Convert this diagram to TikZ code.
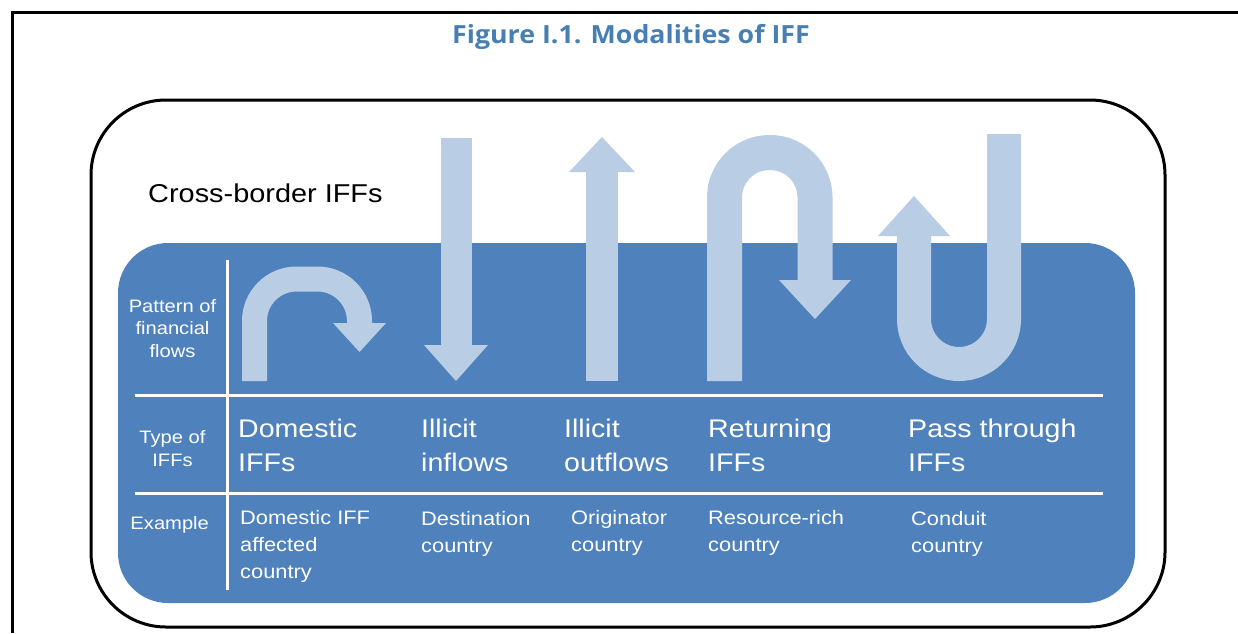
\documentclass[tikz,border=0pt]{standalone}
\usepackage{fontspec}
\setmainfont[FakeStretch=1.12]{Liberation Sans}
\newfontfamily\titlefont[FakeStretch=1.07]{Open Sans}
\usepackage{tikz}

\definecolor{panelblue}{RGB}{79,129,189}
\definecolor{flowblue}{RGB}{185,205,229}
\definecolor{titleblue}{RGB}{72,127,179}

\begin{document}
\begin{tikzpicture}[x=1pt, y=-1pt,
        flow/.style={draw=flowblue, line width=#1},
        head/.style={fill=flowblue},
        rowlabel/.style={anchor=north, inner sep=0pt, align=center, text=white,
            font=\fontsize{18}{22.5}\selectfont},
        flowtype/.style={anchor=north west, inner sep=0pt, align=left, text=white,
            font=\fontsize{25.5}{34}\selectfont},
        example/.style={anchor=north west, inner sep=0pt, align=left, text=white,
            font=\fontsize{19.5}{27}\selectfont},
        rule/.style={draw=white, line width=3pt}]
        \useasboundingbox (0,0) rectangle (1238,633);
        % frame of the page
        \draw[line width=3pt] (12,633) -- (12,12.5) -- (1238,12.5);
        \node[anchor=base, inner sep=0pt, text=titleblue,
            font=\titlefont\bfseries\fontsize{25}{30}\selectfont] (Title) at (631,43) {
            Figure I.1. Modalities of IFF
        };
        % the two panels
        \draw[line width=3pt, rounded corners=75pt] (91,100) rectangle (1165,627);
        \fill[panelblue, rounded corners=50pt] (118,243) rectangle (1135,603);
        \draw[rule] (227,260) -- (227,590);
        \draw[rule] (135,395) -- (1103,395);
        \draw[rule] (135,493) -- (1103,493);
        \node[anchor=north west, inner sep=0pt, font=\fontsize{25.8}{30}\selectfont] (CrossBorder) at (148,183.5) {
            Cross-border IFFs
        };
        % patterns of the flows
        \draw[flow=25pt, rounded corners=42pt] (254.5,381) -- (254.5,279) -- (359.5,279) -- (359.5,323.5);
        \fill[head] (333,323) -- (386,323) -- (359.5,352) -- cycle;
        \draw[flow=31pt] (456,138) -- (456,345.5);
        \fill[head] (424,345) -- (488,345) -- (456,381) -- cycle;
        \draw[flow=32pt] (602,381) -- (602,171.5);
        \fill[head] (569,172) -- (635,172) -- (602,137) -- cycle;
        \draw[flow=35pt, rounded corners=45pt] (724.5,381) -- (724.5,152.5) -- (815,152.5) -- (815,280.5);
        \fill[head] (779,280) -- (851,280) -- (815,319) -- cycle;
        \draw[flow=34pt, rounded corners=45pt] (1004,134) -- (1004,364) -- (914,364) -- (914,235.5);
        \fill[head] (878,236) -- (950,236) -- (914,196) -- cycle;
        % row labels
        \node[rowlabel] (Pattern) at (172.5,299) {
            Pattern of\\financial\\flows
        };
        \node[rowlabel] (Type) at (172.5,430.5) {
            Type of\\IFFs
        };
        \node[rowlabel] (Example) at (172.5,516) {
            Example
        };
        % types of IFFs
        \node[flowtype] (Domestic) at (238,419) {
            Domestic\\IFFs
        };
        \node[flowtype] (Inflows) at (421,419) {
            Illicit\\inflows
        };
        \node[flowtype] (Outflows) at (564,419) {
            Illicit\\outflows
        };
        \node[flowtype] (Returning) at (708,419) {
            Returning\\IFFs
        };
        \node[flowtype] (PassThrough) at (908,419) {
            Pass through\\IFFs
        };
        % examples
        \node[example] (DomesticCountry) at (240,510) {
            Domestic IFF\\affected\\country
        };
        \node[example] (Destination) at (421,511) {
            Destination\\country
        };
        \node[example] (Originator) at (571,510) {
            Originator\\country
        };
        \node[example] (ResourceRich) at (708,510) {
            Resource-rich\\country
        };
        \node[example] (Conduit) at (911,511) {
            Conduit\\country
        };
    \end{tikzpicture}
\end{document}
